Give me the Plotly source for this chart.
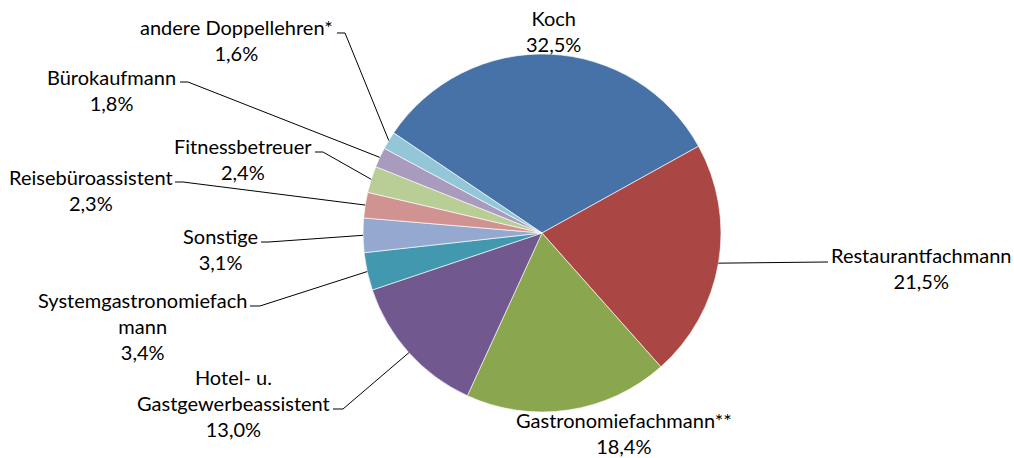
import math
import plotly.graph_objects as go

# ---- data ----
categories = ["Koch", "Restaurantfachmann", "Gastronomiefachmann**",
              "Hotel- u. Gastgewerbeassistent", "Systemgastronomiefachmann",
              "Sonstige", "Reisebüroassistent", "Fitnessbetreuer",
              "Bürokaufmann", "andere Doppellehren*"]
values = [32.5, 21.5, 18.4, 13.0, 3.4, 3.1, 2.3, 2.4, 1.8, 1.6]
label_lines = ["Koch", "Restaurantfachmann", "Gastronomiefachmann**",
               "Hotel- u.<br>Gastgewerbeassistent", "Systemgastronomiefach<br>mann",
               "Sonstige", "Reisebüroassistent", "Fitnessbetreuer",
               "Bürokaufmann", "andere Doppellehren*"]
colors = ["#4672A8", "#AA4744", "#8AA64E", "#71588F", "#4198AF",
          "#95A9D0", "#D09392", "#B9CD96", "#A99BBD", "#93C6D6"]

# ---- layout geometry (pixels) ----
W, H = 1014, 458
CX, CY, R = 542, 233, 179
ROT = -56

# label block centres (px) and leader line label-side points (px)
label_pos = [(553, 31), (921, 268), (624, 433), (233, 403), (142, 326),
             (220, 249), (91, 190), (243, 159), (111, 90), (236, 40)]
leader = [None, [(828, 262)], None, [(333, 409), (343, 409)],
          [(250, 306), (260, 306)], [(261, 242), (269, 242)],
          [(175, 182), (183, 182)], [(315, 152), (323, 152)],
          [(180, 82), (188, 82)], [(337, 33), (345, 33)]]

def px(x, y):
    return x / W, 1 - y / H

fig = go.Figure()
fig.add_trace(go.Pie(
    labels=categories, values=values, sort=False, direction="clockwise",
    rotation=ROT, textinfo="none", hoverinfo="label+percent",
    marker=dict(colors=colors, line=dict(color="rgba(255,255,255,0.8)", width=0.8)),
    domain=dict(x=[(CX - R) / W, (CX + R) / W], y=[1 - (CY + R) / H, 1 - (CY - R) / H]),
    showlegend=False,
))

total = sum(values)
cum = 0.0
shapes = []
annotations = []
for i, v in enumerate(values):
    mid = ROT + (cum + v / 2) / total * 360
    cum += v
    a = math.radians(mid)
    ex, ey = CX + R * math.sin(a), CY - R * math.cos(a)
    pct = f"{v:.1f}".replace(".", ",") + "%"
    lx, ly = label_pos[i]
    ax, ay = px(lx, ly)
    annotations.append(dict(
        x=ax, y=ay, xref="paper", yref="paper", xanchor="center", yanchor="middle",
        text=label_lines[i] + "<br>" + pct, showarrow=False, align="center",
        font=dict(family="Lato, Carlito, sans-serif", size=20, color="#000000"),
    ))
    if leader[i]:
        pts = leader[i] + [(ex, ey)]
        path = ""
        for j, (x, y) in enumerate(pts):
            qx, qy = px(x, y)
            path += ("M" if j == 0 else " L") + f"{qx:.5f},{qy:.5f}"
        shapes.append(dict(type="path", xref="paper", yref="paper", path=path,
                           line=dict(color="black", width=1)))

fig.update_layout(
    width=W, height=H, margin=dict(l=0, r=0, t=0, b=0),
    paper_bgcolor="white", plot_bgcolor="white",
    shapes=shapes, annotations=annotations,
)
fig.write_html("out.html", config={"displayModeBar": False},
               post_script="document.body.style.margin='0px';")
